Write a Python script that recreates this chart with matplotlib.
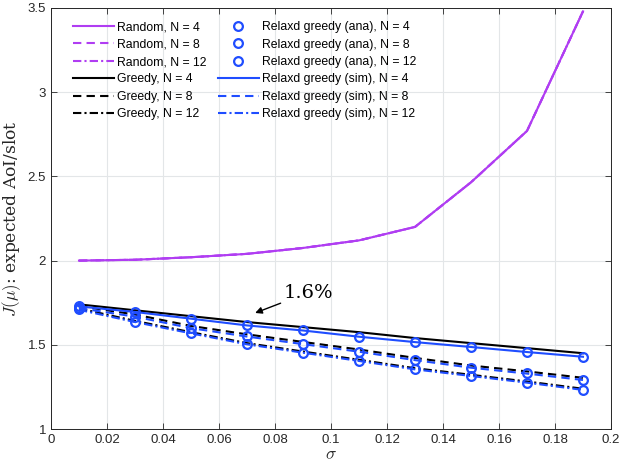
import numpy as np
import matplotlib
matplotlib.use('Agg')
import matplotlib.pyplot as plt

plt.rcParams['font.family'] = ['Liberation Sans', 'DejaVu Sans']
plt.rcParams['mathtext.fontset'] = 'cm'

sigma = [0.01, 0.03, 0.05, 0.07, 0.09, 0.11, 0.13, 0.15, 0.17, 0.19]

# random policy (all N on top of each other)
random_n4 = [2.00, 2.005, 2.02, 2.04, 2.075, 2.12, 2.20, 2.465, 2.77, 3.48]
random_n8 = [2.00, 2.005, 2.02, 2.04, 2.075, 2.12, 2.20, 2.465, 2.77, 3.48]
random_n12 = [2.00, 2.005, 2.02, 2.04, 2.075, 2.12, 2.20, 2.465, 2.77, 3.48]

greedy_n4 = [1.74, 1.705, 1.67, 1.635, 1.605, 1.575, 1.54, 1.51, 1.48, 1.45]
greedy_n8 = [1.73, 1.68, 1.612, 1.562, 1.517, 1.472, 1.422, 1.377, 1.342, 1.304]
greedy_n12 = [1.716, 1.642, 1.575, 1.51, 1.46, 1.411, 1.361, 1.322, 1.282, 1.239]

relax_ana_n4 = [1.73, 1.697, 1.656, 1.616, 1.586, 1.549, 1.517, 1.488, 1.458, 1.43]
relax_ana_n8 = [1.72, 1.668, 1.60, 1.55, 1.505, 1.46, 1.41, 1.365, 1.33, 1.292]
relax_ana_n12 = [1.71, 1.636, 1.569, 1.504, 1.454, 1.405, 1.355, 1.316, 1.276, 1.233]

relax_sim_n4 = [1.728, 1.695, 1.655, 1.615, 1.585, 1.548, 1.516, 1.487, 1.457, 1.429]
relax_sim_n8 = [1.718, 1.667, 1.599, 1.549, 1.504, 1.459, 1.409, 1.364, 1.329, 1.291]
relax_sim_n12 = [1.708, 1.635, 1.568, 1.503, 1.453, 1.404, 1.354, 1.315, 1.275, 1.232]

PURPLE = '#b03df2'
BLUE = '#1f4dff'
DASH = (0, (4, 2.5))
DASHDOT = (0, (4, 1.5, 1, 1.5))
styles = ['-', DASH, DASHDOT]
Ns = [4, 8, 12]

fig = plt.figure(figsize=(6.22, 4.69), dpi=100)
ax = fig.add_axes([51 / 622, 40 / 469, 560 / 622, 421 / 469])

handles = []
for vals, ls, n in zip([random_n4, random_n8, random_n12], styles, Ns):
    h, = ax.plot(sigma, vals, color=PURPLE, ls=ls, lw=1.5, label=f'Random, N = {n}')
    handles.append(h)
for vals, ls, n in zip([greedy_n4, greedy_n8, greedy_n12], styles, Ns):
    h, = ax.plot(sigma, vals, color='black', ls=ls, lw=1.5, label=f'Greedy, N = {n}')
    handles.append(h)
for vals, n in zip([relax_ana_n4, relax_ana_n8, relax_ana_n12], Ns):
    h, = ax.plot(sigma, vals, ls='none', marker='o', ms=6.3, mfc='none', mec=BLUE, mew=1.6,
                 label=f'Relaxd greedy (ana), N = {n}')
    handles.append(h)
for vals, ls, n in zip([relax_sim_n4, relax_sim_n8, relax_sim_n12], styles, Ns):
    h, = ax.plot(sigma, vals, color=BLUE, ls=ls, lw=1.5, label=f'Relaxd greedy (sim), N = {n}')
    handles.append(h)

ax.set_xlim(0, 0.2)
ax.set_ylim(1, 3.5)
ax.set_xticks(np.arange(0, 0.201, 0.02))
ax.set_xticklabels(['0', '0.02', '0.04', '0.06', '0.08', '0.1', '0.12', '0.14', '0.16', '0.18', '0.2'])
ax.set_yticks([1, 1.5, 2, 2.5, 3, 3.5])
ax.set_yticklabels(['1', '1.5', '2', '2.5', '3', '3.5'])
ax.tick_params(direction='in', top=True, right=True, labelsize=9.5, colors='#262626', length=4, width=0.6)
for s in ax.spines.values():
    s.set_color('#262626')
    s.set_linewidth(0.7)
ax.grid(True, color='#e3e6e8', lw=0.8)
ax.set_axisbelow(True)

ax.set_xlabel(r'$\sigma$', fontsize=12.5, labelpad=1, color='#262626')
ax.set_ylabel(r'$J(\mu)$: expected AoI/slot', fontsize=12.3, labelpad=3,
              fontfamily='serif', color='#262626')
ax.yaxis.label.set_math_fontfamily('cm')

leg = ax.legend(handles=handles, ncol=2, loc='upper left', frameon=False, fontsize=8.8,
                handlelength=3.35, handletextpad=0.3, columnspacing=0.9,
                labelspacing=0.44, borderaxespad=0, bbox_to_anchor=(0.03, 0.98))

ax.annotate('1.6%', xy=(0.0729, 1.689), xytext=(0.083, 1.81),
            fontsize=14, fontfamily='DejaVu Serif', va='center', ha='left',
            arrowprops=dict(arrowstyle='-|>', color='black', lw=1.0, mutation_scale=10,
                            shrinkA=0, shrinkB=0))

fig.savefig('out.png', dpi=100)
